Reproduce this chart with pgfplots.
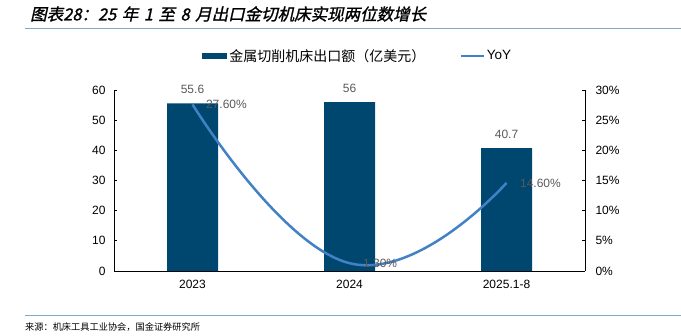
\documentclass[border=0pt]{standalone}
\usepackage{fontspec}
\usepackage{pgfplots}
\pgfplotsset{compat=1.18}
\setmainfont{Liberation Sans}
\newfontfamily\cjk{Noto Sans CJK SC}
\newfontfamily\cjktitle[FakeSlant=0.22,FakeBold=1.2]{Noto Sans CJK SC}
\definecolor{barblue}{HTML}{00476F}
\definecolor{lineblue}{HTML}{4181C5}
\definecolor{rulec}{HTML}{7FAABF}
\definecolor{labgrey}{HTML}{595959}
\pgfplotsset{/pgf/number format/assume math mode=true,
  shortline legend/.style={legend image code/.code={\draw[##1] (0bp,0bp) -- (23bp,0bp);}},
  barbox legend/.style={legend image code/.code={\fill[barblue] (0bp,-3bp) rectangle (25bp,3bp);}}}
\begin{document}
\begin{tikzpicture}[x=1bp,y=1bp]
\path[use as bounding box] (0,0) rectangle (681,-335);
\coordinate (O) at (114,-271);
\node[anchor=west, inner sep=0] at (30,-14) {\cjktitle\fontsize{16.5bp}{19bp}\selectfont 图表28：25\,\,年\,\,1\,\,至\,\,8\,\,月出口金切机床实现两位数增长};
\draw[rulec, line width=1.2bp] (25,-28.5) -- (681,-28.5);
\draw[rulec, line width=1.2bp] (25,-315.5) -- (681,-315.5);
\node[anchor=west, inner sep=0] at (25,-327) {\cjk\fontsize{9.2bp}{11bp}\selectfont 来源：机床工具工业协会，国金证券研究所};

\begin{axis}[
  at={(O)}, anchor=south west,
  width=471bp, height=181bp, scale only axis,
  xmin=-0.5, xmax=2.5, ymin=0, ymax=60,
  axis x line*=bottom, axis y line*=left,
  axis line style={-, black, line width=0.9bp},
  xtick={0,1,2}, xticklabels={2023,2024,2025.1-8},
  ytick={0,10,...,60},
  tick align=inside, major tick length=3bp,
  tick style={black, line width=0.8bp},
  x tick style={draw=none},
  extra x ticks={0.5,1.5}, extra x tick labels={},
  extra x tick style={tick style={draw=black, line width=0.8bp}, major tick length=4bp},
  ticklabel style={font=\fontsize{12bp}{14bp}\selectfont},
  xticklabel style={yshift=-6bp},
  yticklabel style={xshift=-5bp},
  legend style={at={(0.187,1.188)}, anchor=west, draw=none, fill=none,
    inner sep=0pt, font=\fontsize{13.5bp}{15bp}\selectfont,
    /tikz/every even column/.append style={column sep=32bp},
    nodes={inner sep=2bp}},
  legend columns=2, legend cell align=left,
]
\addplot[ybar, bar width=51bp, fill=barblue, draw=none, barbox legend,
  nodes near coords,
  every node near coord/.append style={font=\fontsize{12bp}{14bp}\selectfont, text=labgrey, yshift=6bp}]
  coordinates {(0,55.6) (1,56) (2,40.7)};
\addlegendentry{\cjk\fontsize{14bp}{16bp}\selectfont 金属切削机床出口额（亿美元）}
\addlegendimage{lineblue, line width=2.5bp, shortline legend}
\addlegendentry{YoY}
\end{axis}

\begin{axis}[
  at={(O)}, anchor=south west,
  width=471bp, height=181bp, scale only axis,
  xmin=-0.5, xmax=2.5, ymin=0, ymax=30,
  axis x line=none, axis y line*=right,
  axis line style={-, black, line width=0.9bp},
  ytick={0,5,...,30},
  yticklabel={\pgfmathprintnumber{\tick}\%},
  tick align=inside, major tick length=3bp,
  tick style={black, line width=0.8bp},
  ticklabel style={font=\fontsize{12bp}{14bp}\selectfont},
  yticklabel style={xshift=7bp},
]
\addplot[lineblue, line width=2.5bp, smooth, tension=0.8, no markers,
  nodes near coords={\pgfmathprintnumber[fixed,fixed zerofill,precision=2]{\pgfplotspointmeta}\%},
  every node near coord/.append style={font=\fontsize{12bp}{14bp}\selectfont, text=labgrey, anchor=west, xshift=9bp}]
  coordinates {(0,27.6) (1,1.3) (2,14.6)};
\end{axis}
\end{tikzpicture}
\end{document}
